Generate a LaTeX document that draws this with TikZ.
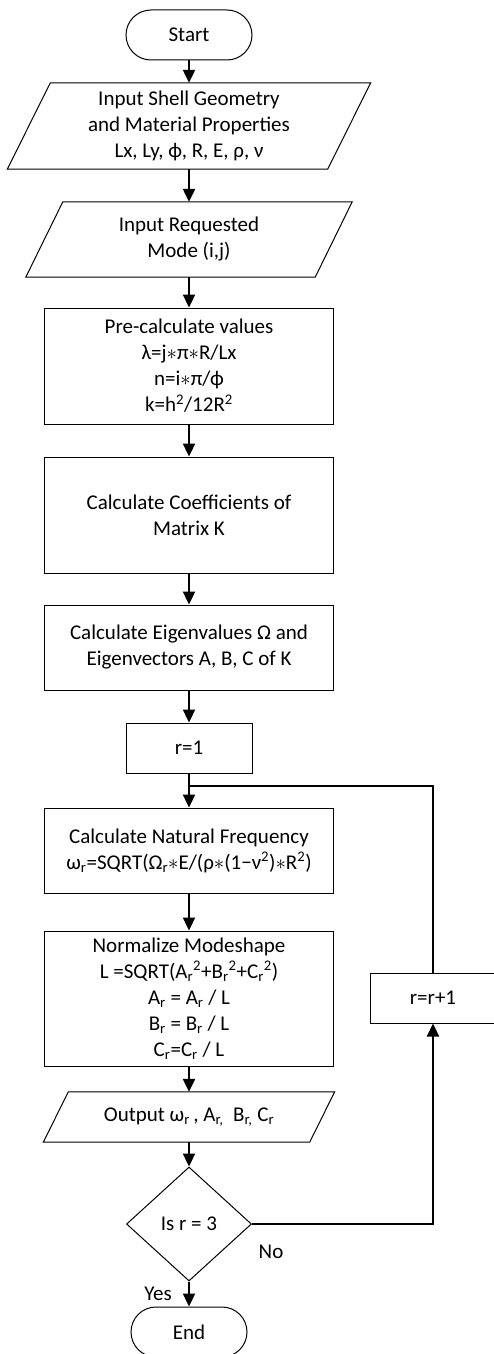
\documentclass[tikz,border=0pt]{standalone}
\usepackage{fontspec}
\setmainfont{Carlito}
\usetikzlibrary{shapes.geometric,arrows.meta,calc}
\tikzset{
  base/.style={font=\fontsize{21}{26}\selectfont, align=center, inner sep=0pt},
  boxnode/.style={base, draw, line width=1pt, minimum width=289pt},
  term/.style={base, draw, line width=1pt, rounded corners=25pt, minimum width=126pt, minimum height=50pt},
  io/.style={base},
  dec/.style={base, draw, diamond, line width=1pt, minimum width=125pt, minimum height=114pt},
  conn/.style={line width=2.3pt, -{Triangle[length=13pt,width=12pt]}},
  plain/.style={line width=2.3pt},
  lbl/.style={font=\fontsize{21}{26}\selectfont, inner sep=0pt}
}
\newcommand{\mypara}[2]{%
  \draw[line width=1pt] ($(#1.north west)+(#2,0)$) -- ($(#1.north east)+(#2,0)$)
    -- ($(#1.south east)-(#2,0)$) -- ($(#1.south west)-(#2,0)$) -- cycle;}
\newcommand{\sub}[1]{\textsubscript{#1}}
\newcommand{\sq}{\textsuperscript{2}}
\newcommand{\st}{\ensuremath{\ast}}
\begin{document}
\begin{tikzpicture}[x=1pt,y=-1pt]
\useasboundingbox (0,0) rectangle (493,1354);
\node[term] (start) at (189,35) {Start};
\node[io, minimum width=320pt, minimum height=86pt] (in1) at (189,126)
  {Input Shell Geometry\\and Material Properties\\Lx, Ly, ϕ, R, E, ρ, ν};
\mypara{in1}{21.5pt}
\node[io, minimum width=289pt, minimum height=75pt] (in2) at (189,239.5)
  {Input Requested\\Mode (i,j)};
\mypara{in2}{18.5pt}
\node[boxnode, minimum height=116pt] (pre) at (189,366)
  {Pre-calculate values\\λ=j\st π\st R/Lx\\n=i\st π/ϕ\\k=h\sq/12R\sq};
\node[boxnode, minimum height=116pt] (coef) at (189,515)
  {Calculate Coefficients of\\Matrix K};
\node[boxnode, minimum height=85pt] (eig) at (189,647.5)
  {Calculate Eigenvalues Ω and\\Eigenvectors A, B, C of K};
\node[boxnode, minimum width=126pt, minimum height=50pt] (r1) at (189,748) {r=1};
\node[boxnode, minimum height=85pt] (freq) at (189,850.5)
  {Calculate Natural Frequency\\ω\sub{r}=SQRT(Ω\sub{r}\st E/(ρ\st(1−ν\sq)\st R\sq)};
\node[boxnode, minimum height=135pt] (norm) at (189,998.5)
  {Normalize Modeshape\\L =SQRT(A\sub{r}\sq+B\sub{r}\sq+C\sub{r}\sq)\\A\sub{r} = A\sub{r} / L\\B\sub{r} = B\sub{r} / L\\C\sub{r}=C\sub{r} / L};
\node[io, minimum width=266pt, minimum height=50pt] (out) at (189,1117)
  {Output ω\sub{r}\,, A\sub{r,}\ \ B\sub{r,} C\sub{r}};
\mypara{out}{12.5pt}
\node[dec] (check) at (189,1224) {Is r = 3};
\node[term, minimum width=116pt] (endn) at (189,1332) {End};
\node[boxnode, minimum width=126pt, minimum height=50pt] (inc) at (433,998) {r=r+1};
\coordinate (join) at (189,786);
\node[lbl] (no) at (271,1252) {No};
\node[lbl] (yes) at (158,1294) {Yes};

\draw[conn] (start) -- (in1);
\draw[conn] (in1) -- (in2);
\draw[conn] (in2) -- (pre);
\draw[conn] (pre) -- (coef);
\draw[conn] (coef) -- (eig);
\draw[conn] (eig) -- (r1);
\draw[conn] (r1) -- (freq);
\draw[conn] (freq) -- (norm);
\draw[conn] (norm) -- (out);
\draw[conn] (out) -- (check);
\draw[conn] (check) -- (endn);
\draw[conn] (check.east) -| (inc.south);
\draw[plain] (inc.north) |- (join);
\end{tikzpicture}
\end{document}
